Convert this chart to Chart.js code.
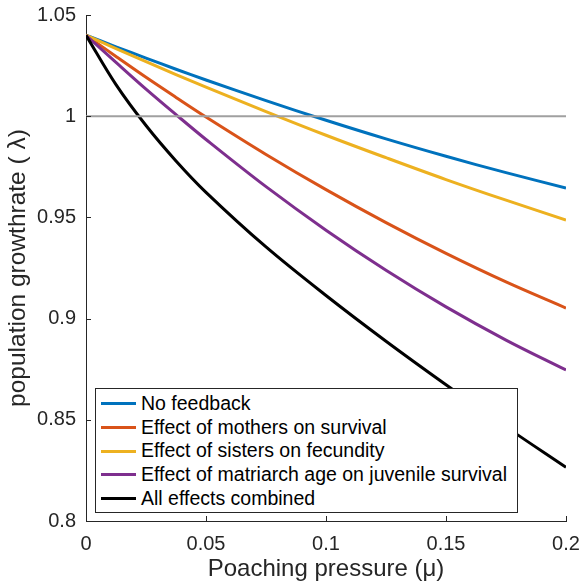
<!DOCTYPE html>
<html>
<head>
<meta charset="utf-8">
<script src="https://cdn.jsdelivr.net/npm/chart.js@4.4.1/dist/chart.umd.min.js"></script>
<style>
  body { margin: 0; background: #fff; }
  #wrap { position: relative; width: 582px; height: 584px; }
  #legend {
    position: absolute; left: 95px; top: 388px; width: 421px; height: 120px;
    border: 1px solid #262626; background: #fff; box-sizing: content-box;
    font-family: "Liberation Sans", Arial, Helvetica, sans-serif; font-size: 19.5px; color: #000;
    padding-top: 3px;
  }
  .row { height: 23.7px; line-height: 23.7px; display: flex; align-items: center; white-space: nowrap; }
  .swatch { width: 35px; height: 3px; margin-left: 5px; margin-right: 5px; }
</style>
</head>
<body>
<div id="wrap">
  <canvas id="growthChart" width="582" height="584"></canvas>
  <div id="legend"></div>
</div>
<script>
// values
const poaching = [0, 0.0125, 0.025, 0.0375, 0.05, 0.075, 0.1, 0.125, 0.15, 0.175, 0.2];
const noFeedback = [1.04, 1.0343, 1.0287, 1.0232, 1.0179, 1.0077, 0.998, 0.9888, 0.9802, 0.9721, 0.9645];
const mothersEffect = [1.04, 1.0295, 1.0192, 1.0093, 0.9996, 0.9811, 0.9637, 0.9474, 0.9322, 0.9181, 0.9052];
const sistersEffect = [1.04, 1.0334, 1.027, 1.0206, 1.0144, 1.0023, 0.9906, 0.9795, 0.9687, 0.9585, 0.9487];
const matriarchEffect = [1.04, 1.0266, 1.0134, 1.0008, 0.9885, 0.9652, 0.9437, 0.9239, 0.9058, 0.8894, 0.8746];
const allEffects = [1.04, 1.0156, 0.9954, 0.9779, 0.9624, 0.9354, 0.9114, 0.8888, 0.8673, 0.8465, 0.8265];

const seriesLabels = ['No feedback', 'Effect of mothers on survival', 'Effect of sisters on fecundity',
  'Effect of matriarch age on juvenile survival', 'All effects combined'];
const seriesColors = ['#0072BD', '#D95319', '#EDB120', '#7E2F8E', '#000000'];
const seriesValues = [noFeedback, mothersEffect, sistersEffect, matriarchEffect, allEffects];

const xTicks = [0, 0.05, 0.1, 0.15, 0.2];
const yTicks = [0.8, 0.85, 0.9, 0.95, 1, 1.05];
const refLevel = 1;

const axisColor = '#262626';
const fontFamily = '"Liberation Sans", Arial, Helvetica, sans-serif';

const datasets = seriesValues.map((vals, i) => ({
    label: seriesLabels[i],
    data: vals.map((v, j) => ({ x: poaching[j], y: v })),
    borderColor: seriesColors[i],
    borderWidth: 3,
    pointRadius: 0,
    tension: 0.35,
    order: seriesLabels.length - i
}));

datasets.push({
    label: 'ref',
    data: [{ x: xTicks[0], y: refLevel }, { x: xTicks[xTicks.length - 1], y: refLevel }],
    borderColor: '#a0a0a0',
    borderWidth: 2,
    pointRadius: 0,
    order: -1
});

// inward tick marks like the original figure
const innerTicks = {
    id: 'innerTicks',
    afterDraw(chart) {
        const c = chart.ctx, a = chart.chartArea;
        const xs = chart.scales.x, ys = chart.scales.y;
        c.save();
        c.strokeStyle = axisColor;
        c.lineWidth = 1;
        c.beginPath();
        xTicks.forEach(v => {
            const px = Math.round(xs.getPixelForValue(v)) + 0.5;
            c.moveTo(px, a.bottom);
            c.lineTo(px, a.bottom - 5);
        });
        yTicks.forEach(v => {
            const py = Math.round(ys.getPixelForValue(v)) + 0.5;
            c.moveTo(a.left, py);
            c.lineTo(a.left + 5, py);
        });
        c.stroke();
        c.restore();
    }
};

const ctx = document.getElementById('growthChart').getContext('2d');
const growthChart = new Chart(ctx, {
    type: 'line',
    data: { datasets: datasets },
    options: {
        responsive: false,
        animation: false,
        devicePixelRatio: 1,
        layout: { padding: { top: 15, right: 16, left: 0, bottom: 0 } },
        plugins: { legend: { display: false }, tooltip: { enabled: false } },
        scales: {
            x: {
                type: 'linear',
                min: 0, max: 0.2,
                afterBuildTicks: s => { s.ticks = xTicks.map(v => ({ value: v })); },
                afterFit: s => { s.height = 63; s.paddingLeft = 0; s.paddingRight = 0; },
                grid: { display: true, drawOnChartArea: false, drawTicks: false },
                border: { color: axisColor, width: 1 },
                ticks: {
                    padding: 11,
                    color: axisColor,
                    font: { family: fontFamily, size: 20 },
                    callback: v => String(Number(v.toFixed(3)))
                },
                title: {
                    display: true,
                    text: 'Poaching pressure (\u03bc)',
                    color: axisColor,
                    font: { family: fontFamily, size: 24 },
                    padding: { top: 0, bottom: 0 }
                }
            },
            y: {
                type: 'linear',
                min: 0.8, max: 1.05,
                afterBuildTicks: s => { s.ticks = yTicks.map(v => ({ value: v })); },
                afterFit: s => { s.width = 86; s.paddingTop = 0; s.paddingBottom = 0; },
                grid: { display: true, drawOnChartArea: false, drawTicks: false },
                border: { color: axisColor, width: 1 },
                ticks: {
                    padding: 10,
                    color: axisColor,
                    font: { family: fontFamily, size: 20 },
                    callback: v => String(Number(v.toFixed(3)))
                },
                title: {
                    display: true,
                    text: 'population growthrate ( \u03bb)',
                    color: axisColor,
                    font: { family: fontFamily, size: 24.5 },
                    padding: { top: 4, bottom: 0 }
                }
            }
        }
    },
    plugins: [innerTicks]
});

// legend box drawn inside the plot, lower left
const legendBox = document.getElementById('legend');
legendBox.innerHTML = seriesLabels.map((lab, i) =>
    `<div class="row"><span class="swatch" style="background:${seriesColors[i]}"></span><span>${lab}</span></div>`
).join('');
</script>
</body>
</html>
